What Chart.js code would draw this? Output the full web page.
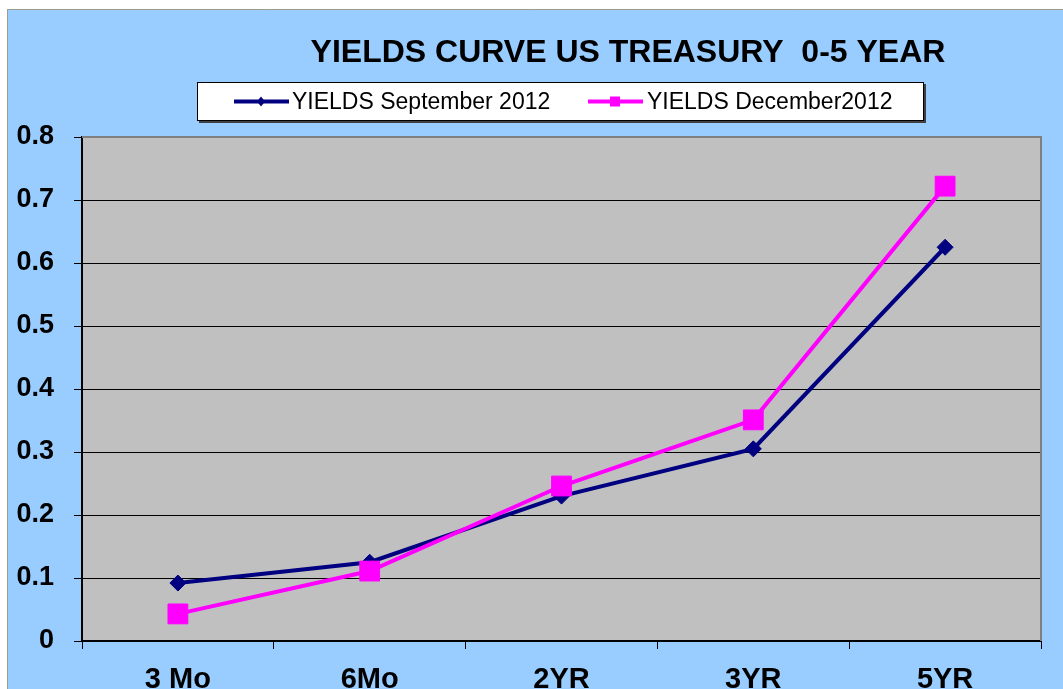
<!DOCTYPE html>
<html>
<head>
<meta charset="utf-8">
<script src="https://cdn.jsdelivr.net/npm/chart.js@4/dist/chart.umd.min.js"></script>
<style>
  html, body { margin: 0; padding: 0; background: #fff; }
  #wrap { position: relative; width: 1063px; height: 689px; }
</style>
</head>
<body>
<div id="wrap"><canvas id="graficoYields" width="1063" height="689"></canvas></div>
<script>
// dados
const categorias = ['3 Mo', '6Mo', '2YR', '3YR', '5YR'];
const yieldsSetembro = [0.092, 0.125, 0.23, 0.305, 0.625];
const yieldsDezembro = [0.043, 0.111, 0.246, 0.351, 0.722];
const ticksY = [0, 0.1, 0.2, 0.3, 0.4, 0.5, 0.6, 0.7, 0.8];

const titulo = 'YIELDS CURVE US TREASURY  0-5 YEAR';
const legendaSetembro = 'YIELDS September 2012';
const legendaDezembro = 'YIELDS December2012';

const AZUL = '#000080';
const ROSA = '#FF00FF';
const FONTE = '"Liberation Sans", Arial, sans-serif';

// fundo, area do grafico, titulo e legenda
const molduraPlugin = {
    id: 'moldura',
    beforeDraw(chart) {
        const ctx = chart.ctx;
        const a = chart.chartArea;
        ctx.save();
        ctx.fillStyle = '#ffffff';
        ctx.fillRect(0, 0, chart.width, chart.height);
        ctx.fillStyle = '#99CCFF';
        ctx.fillRect(7, 9, chart.width - 7, chart.height - 9);
        ctx.strokeStyle = '#9c9c8c';
        ctx.lineWidth = 1;
        ctx.beginPath();
        ctx.moveTo(7.5, chart.height);
        ctx.lineTo(7.5, 9.5);
        ctx.lineTo(chart.width, 9.5);
        ctx.stroke();
        // area cinza
        ctx.fillStyle = '#C0C0C0';
        ctx.fillRect(a.left, a.top, a.right - a.left, a.bottom - a.top);
        ctx.restore();
    },
    beforeDatasetsDraw(chart) {
        const ctx = chart.ctx;
        const a = chart.chartArea;
        ctx.save();
        ctx.strokeStyle = '#808080';
        ctx.lineWidth = 2;
        ctx.beginPath();
        ctx.moveTo(a.left, a.top);
        ctx.lineTo(a.right, a.top);
        ctx.lineTo(a.right, a.bottom);
        ctx.stroke();
        ctx.restore();
    },
    afterDraw(chart) {
        const ctx = chart.ctx;
        ctx.save();
        // titulo
        ctx.fillStyle = '#000';
        ctx.font = 'bold 32px ' + FONTE;
        ctx.textAlign = 'center';
        ctx.textBaseline = 'middle';
        ctx.fillText(titulo, 628, 53);

        // caixa da legenda
        const bx = 197, by = 82, bw = 727, bh = 39;
        ctx.fillStyle = '#404040';
        ctx.fillRect(bx + 2, by + 2, bw, bh);
        ctx.fillStyle = '#ffffff';
        ctx.fillRect(bx, by, bw, bh);
        ctx.strokeStyle = '#000';
        ctx.lineWidth = 1;
        ctx.strokeRect(bx + 0.5, by + 0.5, bw - 1, bh - 1);

        const cy = by + bh / 2;
        ctx.font = '23px ' + FONTE;
        ctx.textAlign = 'left';

        // setembro
        ctx.strokeStyle = AZUL;
        ctx.lineWidth = 4;
        ctx.beginPath();
        ctx.moveTo(234, cy);
        ctx.lineTo(289, cy);
        ctx.stroke();
        ctx.fillStyle = AZUL;
        ctx.beginPath();
        ctx.moveTo(261, cy - 5);
        ctx.lineTo(265, cy);
        ctx.lineTo(261, cy + 5);
        ctx.lineTo(257, cy);
        ctx.closePath();
        ctx.fill();
        ctx.fillStyle = '#000';
        ctx.fillText(legendaSetembro, 292, cy + 1);

        // dezembro
        ctx.strokeStyle = ROSA;
        ctx.beginPath();
        ctx.moveTo(588, cy);
        ctx.lineTo(643, cy);
        ctx.stroke();
        ctx.fillStyle = ROSA;
        ctx.fillRect(610, cy - 5, 10, 10);
        ctx.fillStyle = '#000';
        ctx.fillText(legendaDezembro, 647, cy + 1);
        ctx.restore();
    }
};

const ctx = document.getElementById('graficoYields').getContext('2d');

new Chart(ctx, {
    type: 'line',
    data: {
        labels: categorias,
        datasets: [
            {
                label: legendaSetembro,
                data: yieldsSetembro,
                borderColor: AZUL,
                backgroundColor: AZUL,
                borderWidth: 4,
                pointStyle: 'rectRot',
                pointRadius: 8,
                pointBorderWidth: 1,
                tension: 0,
                order: 1
            },
            {
                label: legendaDezembro,
                data: yieldsDezembro,
                borderColor: ROSA,
                backgroundColor: ROSA,
                borderWidth: 4,
                pointStyle: 'rect',
                pointRadius: 14,
                pointBorderWidth: 1,
                tension: 0,
                order: 0
            }
        ]
    },
    options: {
        responsive: false,
        animation: false,
        layout: {
            padding: { top: 137, right: 22, left: 0, bottom: 0 }
        },
        plugins: {
            legend: { display: false },
            title: { display: false },
            tooltip: { enabled: false }
        },
        scales: {
            x: {
                offset: true,
                grid: {
                    offset: true,
                    drawOnChartArea: false,
                    drawTicks: true,
                    tickLength: 8,
                    color: '#000'
                },
                border: { color: '#000', width: 2 },
                ticks: {
                    color: '#000',
                    padding: 14,
                    maxRotation: 0,
                    font: { family: FONTE, size: 29, weight: 'bold' }
                },
                afterFit(scale) { scale.height = 48; }
            },
            y: {
                min: 0,
                max: 0.8,
                afterBuildTicks(scale) {
                    scale.ticks = ticksY.map(v => ({ value: v }));
                },
                grid: {
                    color: '#000',
                    lineWidth: 1,
                    tickLength: 8
                },
                border: { color: '#000', width: 2 },
                ticks: {
                    color: '#000',
                    padding: 20,
                    font: { family: FONTE, size: 27, weight: 'bold' },
                    callback: v => String(Math.round(v * 10) / 10)
                },
                afterFit(scale) { scale.width = 82; }
            }
        }
    },
    plugins: [molduraPlugin]
});
</script>
</body>
</html>
